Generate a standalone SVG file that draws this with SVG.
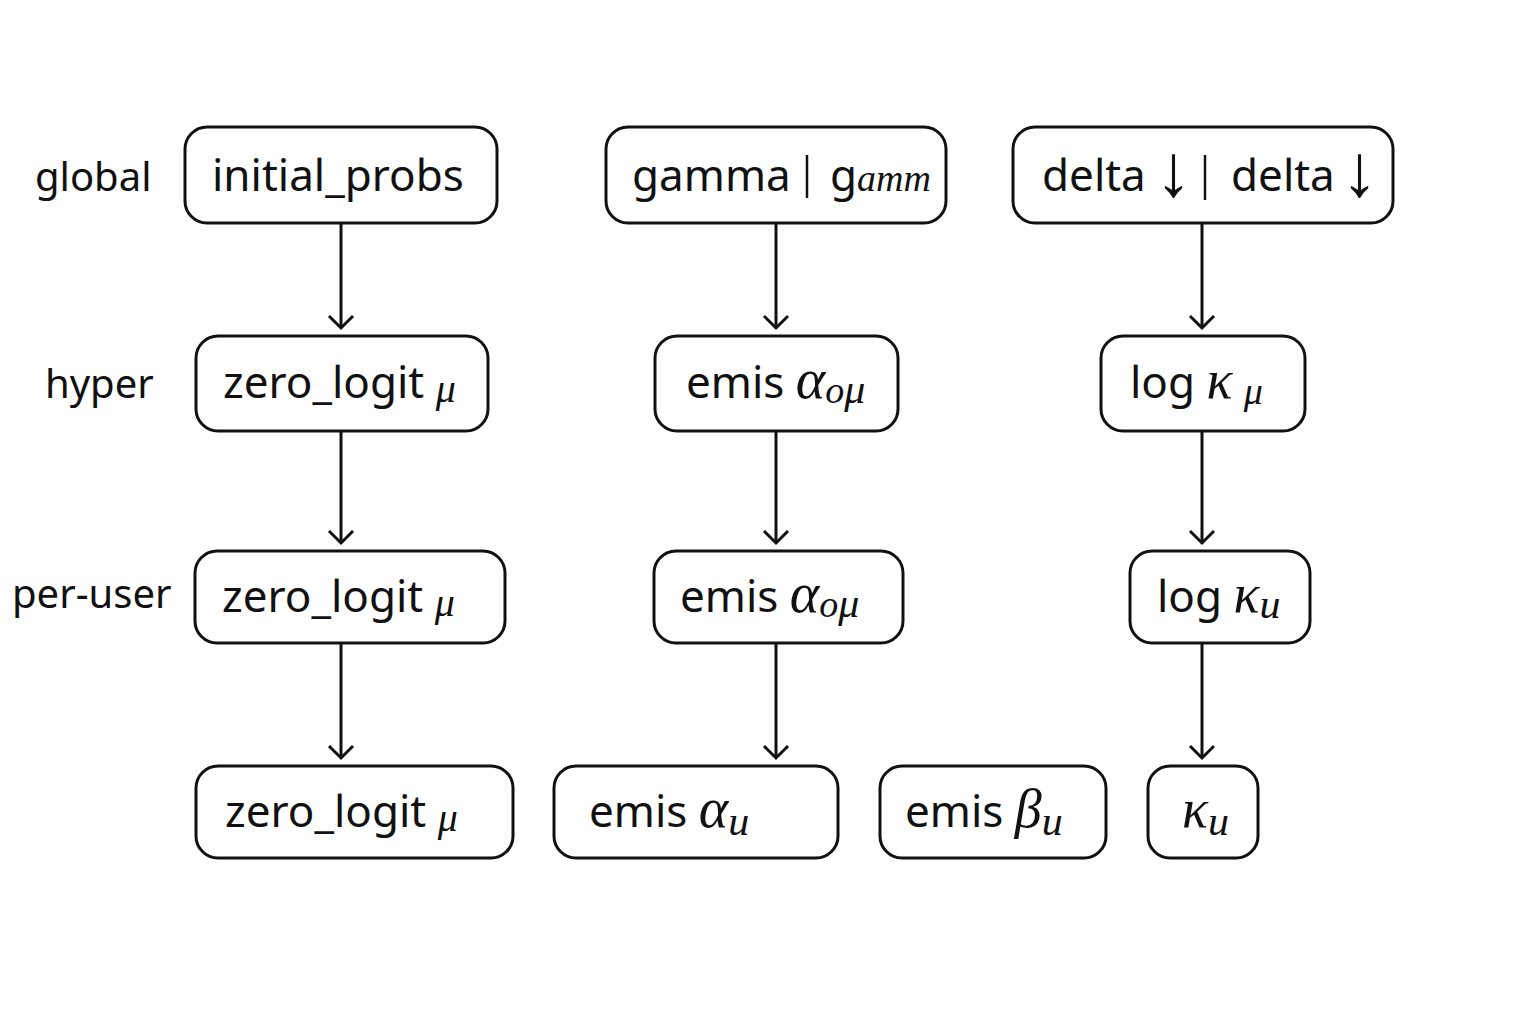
<svg xmlns="http://www.w3.org/2000/svg" width="1536" height="1024" viewBox="0 0 1536 1024">
<style>
.box{fill:#fff;stroke:#111;stroke-width:3}
.t{font-family:"Noto Sans","Open Sans",sans-serif;font-size:44px;fill:#111}
.m{font-family:"Liberation Serif","DejaVu Serif",serif;font-style:italic;fill:#111}
.ar{font-family:"Liberation Sans","DejaVu Sans",sans-serif;font-size:74px;fill:#111}
.lbl{font-family:"Noto Sans","Open Sans",sans-serif;font-size:40px;fill:#111}
.c{stroke:#111;stroke-width:3;fill:none}
</style>
<defs>
<marker id="ah" markerWidth="30" markerHeight="30" refX="14" refY="14" orient="auto" markerUnits="userSpaceOnUse">
<polyline points="2,2 14,14 2,26" fill="none" stroke="#111" stroke-width="3"/>
</marker>
</defs>
<rect width="1536" height="1024" fill="#fff"/>
<g id="labels">
<text class="lbl" x="35" y="191">global</text>
<text class="lbl" x="45" y="398">hyper</text>
<text class="lbl" x="12" y="608">per-user</text>
</g>
<g id="connectors">
<line class="c" x1="341" y1="223" x2="341" y2="328" marker-end="url(#ah)"/>
<line class="c" x1="341" y1="431" x2="341" y2="543" marker-end="url(#ah)"/>
<line class="c" x1="341" y1="643" x2="341" y2="758" marker-end="url(#ah)"/>
<line class="c" x1="776" y1="223" x2="776" y2="328" marker-end="url(#ah)"/>
<line class="c" x1="776" y1="431" x2="776" y2="543" marker-end="url(#ah)"/>
<line class="c" x1="776" y1="643" x2="776" y2="758" marker-end="url(#ah)"/>
<line class="c" x1="1202" y1="223" x2="1202" y2="328" marker-end="url(#ah)"/>
<line class="c" x1="1202" y1="431" x2="1202" y2="543" marker-end="url(#ah)"/>
<line class="c" x1="1202" y1="643" x2="1202" y2="758" marker-end="url(#ah)"/>
</g>
<g id="n-initial">
<rect class="box" x="185" y="127" width="312" height="96" rx="22"/>
<text class="t" x="212" y="191">initial_probs</text>
</g>
<g id="n-gamma">
<rect class="box" x="606" y="127" width="340" height="96" rx="22"/>
<text class="t" x="632" y="191" font-size="43">gamma</text>
<line x1="807" y1="155" x2="807" y2="198" stroke="#111" stroke-width="2.5"/>
<text class="t" x="830" y="191">g<tspan class="m" font-size="38">amm</tspan></text>
</g>
<g id="n-delta">
<rect class="box" x="1013" y="127" width="380" height="96" rx="22"/>
<text class="t" x="1042" y="191">delta</text>
<text class="ar" x="1155" y="196">↓</text>
<line x1="1205" y1="155" x2="1205" y2="200" stroke="#111" stroke-width="2.5"/>
<text class="t" x="1231" y="191">delta</text>
<text class="ar" x="1341" y="196">↓</text>
</g>
<g id="n-zero-hyper">
<rect class="box" x="196" y="336" width="292" height="95" rx="22"/>
<text class="t" x="223" y="398">zero_logit <tspan class="m" font-size="40" dy="4">μ</tspan></text>
</g>
<g id="n-emis-hyper">
<rect class="box" x="655" y="336" width="243" height="95" rx="22"/>
<text class="t" x="686" y="398">emis <tspan class="m" font-size="56">α</tspan><tspan class="m" font-size="38" dy="5">o</tspan><tspan class="m" font-size="42">μ</tspan></text>
</g>
<g id="n-kappa-hyper">
<rect class="box" x="1101" y="336" width="204" height="95" rx="22"/>
<text class="t" x="1130" y="398">log <tspan class="m" font-size="54">κ</tspan> <tspan class="m" font-size="38" dy="6">μ</tspan></text>
</g>
<g id="n-zero-user">
<rect class="box" x="195" y="551" width="310" height="92" rx="22"/>
<text class="t" x="222" y="612">zero_logit <tspan class="m" font-size="40" dy="4">μ</tspan></text>
</g>
<g id="n-emis-user">
<rect class="box" x="654" y="551" width="249" height="92" rx="22"/>
<text class="t" x="680" y="612">emis <tspan class="m" font-size="56">α</tspan><tspan class="m" font-size="38" dy="5">o</tspan><tspan class="m" font-size="42">μ</tspan></text>
</g>
<g id="n-kappa-user">
<rect class="box" x="1130" y="551" width="180" height="92" rx="22"/>
<text class="t" x="1157" y="612">log <tspan class="m" font-size="54">κ</tspan><tspan class="m" font-size="42" dy="6">u</tspan></text>
</g>
<g id="n-zero-out">
<rect class="box" x="196" y="766" width="317" height="92" rx="22"/>
<text class="t" x="225" y="827">zero_logit <tspan class="m" font-size="40" dy="4">μ</tspan></text>
</g>
<g id="n-alpha-out">
<rect class="box" x="554" y="766" width="284" height="92" rx="22"/>
<text class="t" x="589" y="827">emis <tspan class="m" font-size="56">α</tspan><tspan class="m" font-size="42" dy="8">u</tspan></text>
</g>
<g id="n-beta-out">
<rect class="box" x="880" y="766" width="226" height="92" rx="22"/>
<text class="t" x="905" y="827">emis <tspan class="m" font-size="54">β</tspan><tspan class="m" font-size="42" dy="8">u</tspan></text>
</g>
<g id="n-kappa-out">
<rect class="box" x="1148" y="766" width="110" height="92" rx="22"/>
<text class="t" x="1182" y="827"><tspan class="m" font-size="54">κ</tspan><tspan class="m" font-size="42" dy="8">u</tspan></text>
</g>
</svg>
